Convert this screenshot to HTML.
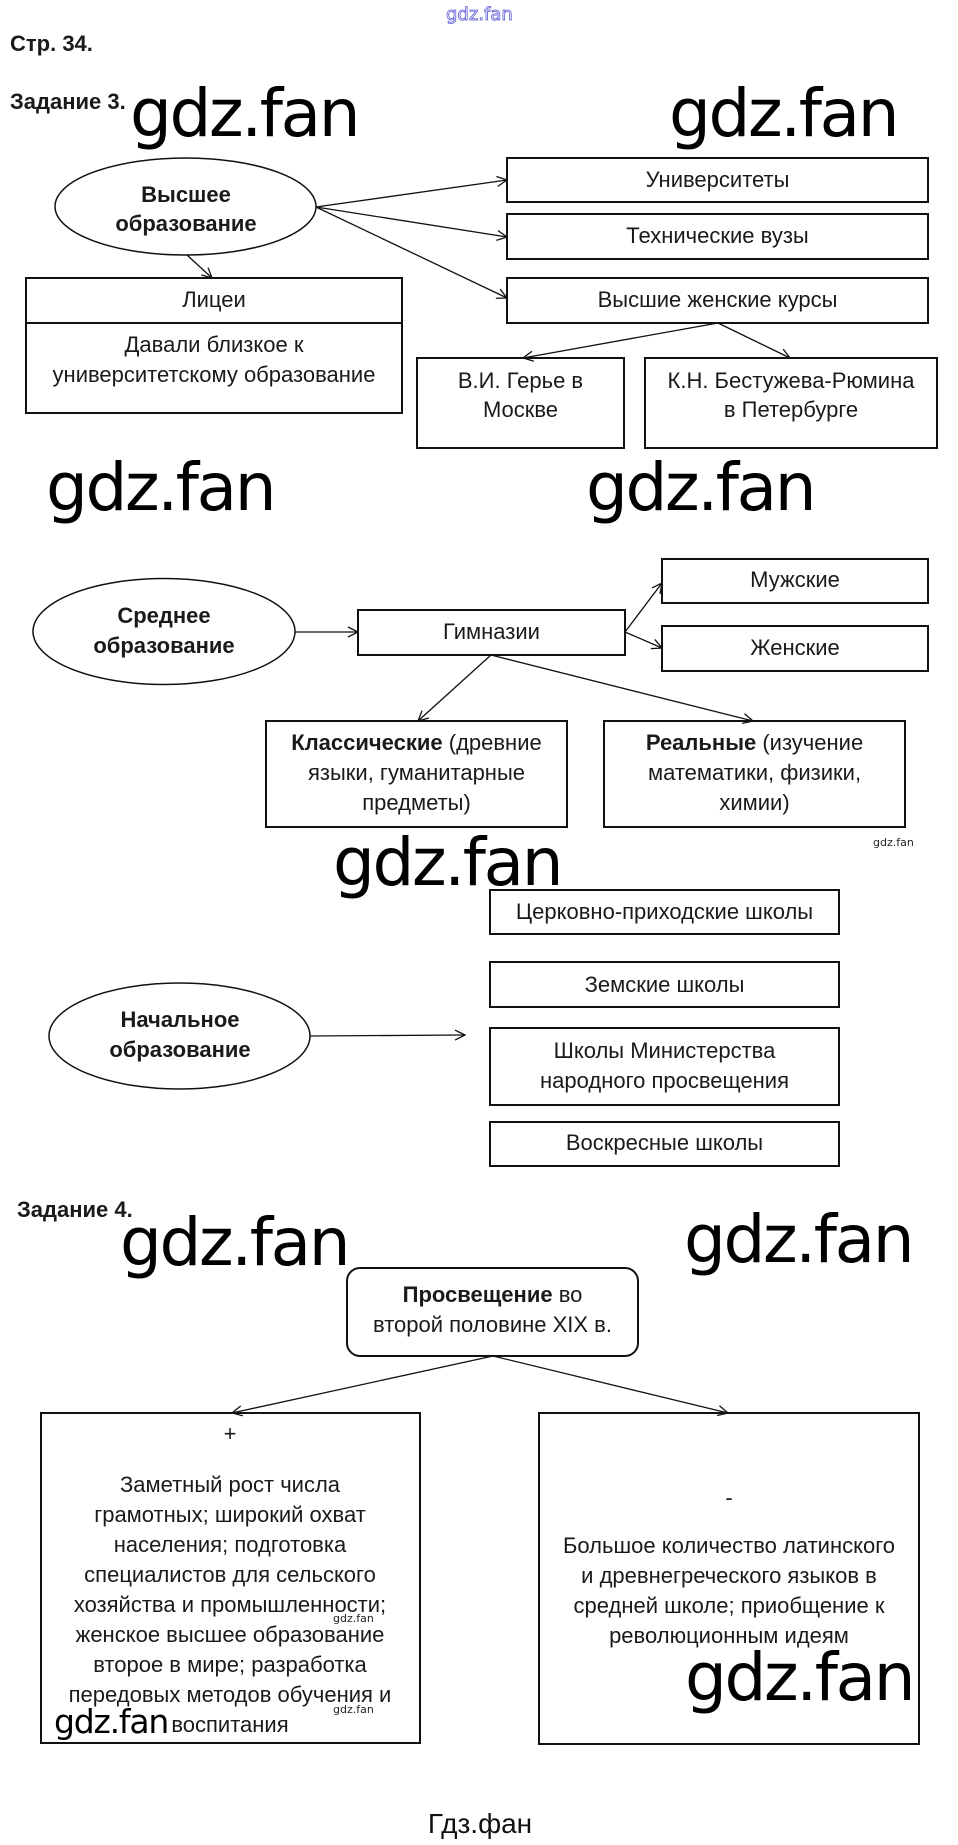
<!DOCTYPE html>
<html><head><meta charset="utf-8"><style>
html,body{margin:0;padding:0;background:#fff;}
svg{display:block;}
.t{font-family:"Liberation Sans",Arial,sans-serif;font-size:22px;fill:#1a1a1a;}
.b{font-weight:bold;}
.w{font-family:"DejaVu Sans",sans-serif;font-size:66px;letter-spacing:-2.4px;fill:#000;}
.ws{font-family:"DejaVu Sans",sans-serif;font-size:11px;fill:#222;}
.r{fill:none;stroke:#111;stroke-width:2;}
.e{fill:none;stroke:#111;stroke-width:1.5;}
.a{stroke:#111;stroke-width:1.3;fill:none;marker-end:url(#ah);}
</style></head><body>
<svg width="958" height="1845" viewBox="0 0 958 1845" xmlns="http://www.w3.org/2000/svg">
<defs>
<marker id="ah" viewBox="0 0 12 12" refX="11" refY="6" markerWidth="12" markerHeight="12" markerUnits="userSpaceOnUse" orient="auto">
<path d="M1,1 L11,6 L1,11" fill="none" stroke="#111" stroke-width="1.3"/>
</marker>
</defs>

<!-- header -->
<text x="446" y="20" style="font-family:'DejaVu Sans',sans-serif;font-size:18px;fill:#fff;stroke:#5b5bd6;stroke-width:0.8;">gdz.fan</text>
<text class="t b" x="10" y="51">Стр. 34.</text>
<text class="t b" x="10" y="109">Задание 3.</text>
<text class="w" x="130" y="136">gdz.fan</text>
<text class="w" x="669" y="136">gdz.fan</text>

<!-- Высшее -->
<ellipse class="e" cx="185.5" cy="206.5" rx="130.5" ry="48.5"/>
<text class="t b" x="186" y="202" text-anchor="middle">Высшее</text>
<text class="t b" x="186" y="231" text-anchor="middle">образование</text>

<rect class="r" x="26" y="278" width="376" height="135"/>
<line x1="26" y1="323" x2="402" y2="323" stroke="#111" stroke-width="2"/>
<text class="t" x="214" y="307" text-anchor="middle">Лицеи</text>
<text class="t" x="214" y="352" text-anchor="middle">Давали близкое к</text>
<text class="t" x="214" y="382" text-anchor="middle">университетскому образование</text>
<line class="a" x1="187" y1="255" x2="212" y2="278"/>

<rect class="r" x="507" y="158" width="421" height="44"/>
<text class="t" x="717.5" y="187" text-anchor="middle">Университеты</text>
<rect class="r" x="507" y="214" width="421" height="45"/>
<text class="t" x="717.5" y="243" text-anchor="middle">Технические вузы</text>
<rect class="r" x="507" y="278" width="421" height="45"/>
<text class="t" x="717.5" y="307" text-anchor="middle">Высшие женские курсы</text>
<line class="a" x1="316" y1="207" x2="507" y2="180"/>
<line class="a" x1="316" y1="207" x2="507" y2="237"/>
<line class="a" x1="316" y1="207" x2="507" y2="298"/>

<rect class="r" x="417" y="358" width="207" height="90"/>
<text class="t" x="520.5" y="388" text-anchor="middle">В.И. Герье в</text>
<text class="t" x="520.5" y="417" text-anchor="middle">Москве</text>
<rect class="r" x="645" y="358" width="292" height="90"/>
<text class="t" x="791" y="388" text-anchor="middle">К.Н. Бестужева-Рюмина</text>
<text class="t" x="791" y="417" text-anchor="middle">в Петербурге</text>
<line class="a" x1="718" y1="323" x2="523" y2="358"/>
<line class="a" x1="718" y1="323" x2="790" y2="358"/>

<text class="w" x="46" y="510">gdz.fan</text>
<text class="w" x="586" y="510">gdz.fan</text>

<!-- Среднее -->
<ellipse class="e" cx="164" cy="631.5" rx="131" ry="53"/>
<text class="t b" x="164" y="623" text-anchor="middle">Среднее</text>
<text class="t b" x="164" y="653" text-anchor="middle">образование</text>
<rect class="r" x="358" y="610" width="267" height="45"/>
<text class="t" x="491.5" y="639" text-anchor="middle">Гимназии</text>
<line class="a" x1="295" y1="632" x2="358" y2="632"/>
<rect class="r" x="662" y="559" width="266" height="44"/>
<text class="t" x="795" y="587" text-anchor="middle">Мужские</text>
<rect class="r" x="662" y="626" width="266" height="45"/>
<text class="t" x="795" y="655" text-anchor="middle">Женские</text>
<line class="a" x1="625" y1="632" x2="662" y2="583"/>
<line class="a" x1="625" y1="632" x2="662" y2="648"/>

<rect class="r" x="266" y="721" width="301" height="106"/>
<text class="t" x="416.5" y="750" text-anchor="middle"><tspan class="b" font-weight="bold">Классические</tspan> (древние</text>
<text class="t" x="416.5" y="780" text-anchor="middle">языки, гуманитарные</text>
<text class="t" x="416.5" y="810" text-anchor="middle">предметы)</text>
<rect class="r" x="604" y="721" width="301" height="106"/>
<text class="t" x="754.5" y="750" text-anchor="middle"><tspan font-weight="bold">Реальные</tspan> (изучение</text>
<text class="t" x="754.5" y="780" text-anchor="middle">математики, физики,</text>
<text class="t" x="754.5" y="810" text-anchor="middle">химии)</text>
<line class="a" x1="491" y1="655" x2="418" y2="721"/>
<line class="a" x1="491" y1="655" x2="753" y2="721"/>
<text class="ws" x="873" y="846">gdz.fan</text>

<text class="w" x="333" y="885">gdz.fan</text>

<!-- Начальное -->
<rect class="r" x="490" y="890" width="349" height="44"/>
<text class="t" x="664.5" y="919" text-anchor="middle">Церковно-приходские школы</text>
<rect class="r" x="490" y="962" width="349" height="45"/>
<text class="t" x="664.5" y="992" text-anchor="middle">Земские школы</text>
<rect class="r" x="490" y="1028" width="349" height="77"/>
<text class="t" x="664.5" y="1058" text-anchor="middle">Школы Министерства</text>
<text class="t" x="664.5" y="1088" text-anchor="middle">народного просвещения</text>
<rect class="r" x="490" y="1122" width="349" height="44"/>
<text class="t" x="664.5" y="1150" text-anchor="middle">Воскресные школы</text>
<ellipse class="e" cx="179.5" cy="1036" rx="130.5" ry="53"/>
<text class="t b" x="180" y="1027" text-anchor="middle">Начальное</text>
<text class="t b" x="180" y="1057" text-anchor="middle">образование</text>
<line class="a" x1="310" y1="1036" x2="465" y2="1035"/>

<!-- Задание 4 -->
<text class="t b" x="17" y="1217">Задание 4.</text>
<text class="w" x="120" y="1265">gdz.fan</text>
<text class="w" x="684" y="1262">gdz.fan</text>

<rect class="r" x="347" y="1268" width="291" height="88" rx="13" ry="13"/>
<text class="t" x="492.5" y="1302" text-anchor="middle"><tspan font-weight="bold">Просвещение</tspan> во</text>
<text class="t" x="492.5" y="1332" text-anchor="middle">второй половине XIX в.</text>
<line class="a" x1="493" y1="1356" x2="232" y2="1413"/>
<line class="a" x1="493" y1="1356" x2="728" y2="1413"/>

<rect class="r" x="41" y="1413" width="379" height="330"/>
<text class="t" x="230" y="1441" text-anchor="middle">+</text>
<text class="t" x="230" y="1492" text-anchor="middle">Заметный рост числа</text>
<text class="t" x="230" y="1522" text-anchor="middle">грамотных; широкий охват</text>
<text class="t" x="230" y="1552" text-anchor="middle">населения; подготовка</text>
<text class="t" x="230" y="1582" text-anchor="middle">специалистов для сельского</text>
<text class="t" x="230" y="1612" text-anchor="middle">хозяйства и промышленности;</text>
<text class="t" x="230" y="1642" text-anchor="middle">женское высшее образование</text>
<text class="t" x="230" y="1672" text-anchor="middle">второе в мире; разработка</text>
<text class="t" x="230" y="1702" text-anchor="middle">передовых методов обучения и</text>
<text class="t" x="230" y="1732" text-anchor="middle">воспитания</text>
<text class="ws" x="333" y="1622">gdz.fan</text>
<text class="ws" x="333" y="1713">gdz.fan</text>
<text x="54" y="1733" style="font-family:'DejaVu Sans',sans-serif;font-size:33px;letter-spacing:-1.2px;fill:#000;">gdz.fan</text>

<rect class="r" x="539" y="1413" width="380" height="331"/>
<text class="t" x="729" y="1505" text-anchor="middle">-</text>
<text class="t" x="729" y="1553" text-anchor="middle">Большое количество латинского</text>
<text class="t" x="729" y="1583" text-anchor="middle">и древнегреческого языков в</text>
<text class="t" x="729" y="1613" text-anchor="middle">средней школе; приобщение к</text>
<text class="t" x="729" y="1643" text-anchor="middle">революционным идеям</text>
<text class="w" x="685" y="1700">gdz.fan</text>

<text x="480" y="1833" text-anchor="middle" style="font-family:'Liberation Sans',Arial,sans-serif;font-size:28px;fill:#111;">Гдз.фан</text>
</svg>
</body></html>
